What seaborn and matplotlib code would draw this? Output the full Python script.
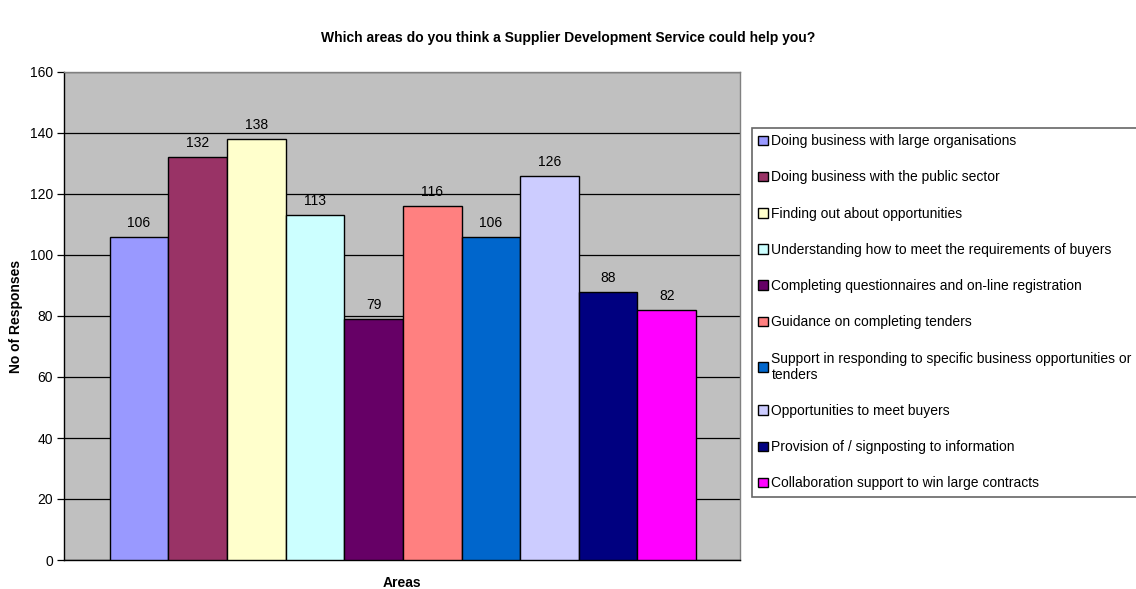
import matplotlib
matplotlib.use("Agg")
import matplotlib.pyplot as plt
import seaborn as sns
import pandas as pd
from matplotlib.patches import Patch

areas = [
    "Doing business with large organisations",
    "Doing business with the public sector",
    "Finding out about opportunities",
    "Understanding how to meet the requirements of buyers",
    "Completing questionnaires and on-line registration",
    "Guidance on completing tenders",
    "Support in responding to specific business opportunities or\ntenders",
    "Opportunities to meet buyers",
    "Provision of / signposting to information",
    "Collaboration support to win large contracts",
]
responses = [106, 132, 138, 113, 79, 116, 106, 126, 88, 82]
colors = ["#9999FF", "#993366", "#FFFFCC", "#CCFFFF", "#660066",
          "#FF8080", "#0066CC", "#CCCCFF", "#000080", "#FF00FF"]
y_ticks = [0, 20, 40, 60, 80, 100, 120, 140, 160]

sns.set_style("white")
plt.rcParams["font.family"] = ["Liberation Sans", "DejaVu Sans"]
plt.rcParams["text.color"] = "black"
plt.rcParams["ytick.color"] = "black"
plt.rcParams["ytick.labelcolor"] = "black"

df = pd.DataFrame({"area": areas, "responses": responses})

fig = plt.figure(figsize=(11.36, 5.89), dpi=100)
W, H = 1136, 589
ax = fig.add_axes([64 / W, 1 - 560 / H, (740 - 64) / W, (560 - 72) / H])
ax.set_facecolor("#C0C0C0")

sns.barplot(data=df, x="area", y="responses", hue="area", palette=colors,
            width=1.0, edgecolor="black", linewidth=1.0, legend=False,
            saturation=1, ax=ax, zorder=3)

ax.set_xlim(-1.28, 10.25)
ax.set_ylim(0, 160)
ax.set_yticks(y_ticks)
ax.set_yticklabels([str(t) for t in y_ticks], fontsize=10, color="black")
ax.set_xticks([])
ax.set_xlabel("")
ax.set_ylabel("")
ax.yaxis.grid(True, color="black", linewidth=0.9, zorder=1)
ax.set_axisbelow(True)
ax.tick_params(axis="y", direction="out", length=5, width=0.9, color="black",
               left=True, pad=3)
for side in ("left", "bottom"):
    ax.spines[side].set_color("black")
    ax.spines[side].set_linewidth(1.0)
for side in ("top", "right"):
    ax.spines[side].set_visible(True)
    ax.spines[side].set_color("#808080")
    ax.spines[side].set_linewidth(1.0)

for bar, val in zip(ax.patches, responses):
    ax.annotate(str(val), (bar.get_x() + bar.get_width() / 2, val),
                xytext=(0, 5), textcoords="offset points",
                ha="center", va="bottom", fontsize=10, color="black")

fig.text(0.5, 1 - 38 / H, "Which areas do you think a Supplier Development Service could help you?",
         ha="center", va="center", fontsize=10, fontweight="bold", color="black")
fig.text(16 / W, 1 - 316 / H, "No of Responses", rotation=90,
         ha="center", va="center", fontsize=10, fontweight="bold", color="black")
fig.text(402 / W, 1 - 583 / H, "Areas", ha="center", va="center",
         fontsize=10, fontweight="bold", color="black")

handles = [Patch(facecolor=c, edgecolor="black", linewidth=1.0) for c in colors]
leg = fig.legend(handles, areas, loc="upper left",
                 bbox_to_anchor=(752 / W, 1 - 128 / H),
                 fontsize=10, frameon=True, fancybox=False,
                 edgecolor="#404040", handlelength=0.7, handleheight=0.7,
                 handletextpad=0.25, labelspacing=1.6, borderpad=0.45,
                 borderaxespad=0)
leg.get_frame().set_linewidth(1.2)
for t in leg.get_texts():
    t.set_color("black")

fig.savefig("out.png", dpi=100)
